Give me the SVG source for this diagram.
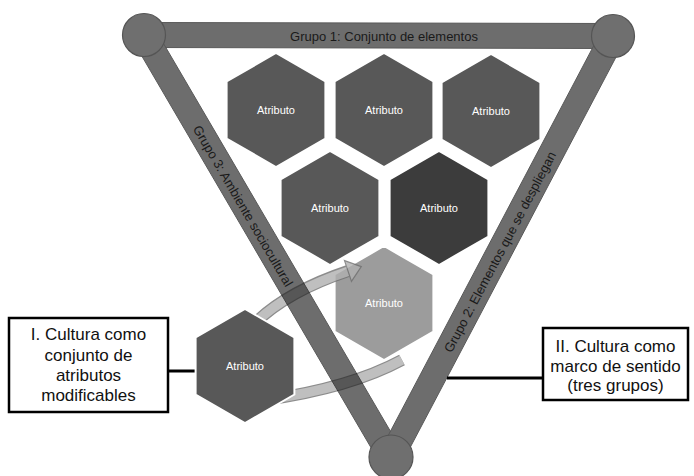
<svg xmlns="http://www.w3.org/2000/svg" width="694" height="476" viewBox="0 0 694 476">
<style>
.hex{stroke:#fff;stroke-width:2}
.h-mid{fill:#585858}
.h-dark{fill:#3c3c3c}
.h-light{fill:#9c9c9c}
.lbl{font-family:"Liberation Sans",Arial,sans-serif;font-size:11px;fill:#fff;text-anchor:middle}
.bartxt{font-family:"Liberation Sans",Arial,sans-serif;font-size:13px;fill:#1a1a1a;text-anchor:middle}
.boxtxt{font-family:"Liberation Sans",Arial,sans-serif;font-size:17px;fill:#111;text-anchor:middle}
.bar{fill:#202020;stroke:#000;stroke-width:1}
.circ{fill:#6f6f6f;stroke:#555;stroke-width:1.2}
.box{fill:#fff;stroke:#000;stroke-width:2.5}
.conn{stroke:#000;stroke-width:3;fill:none}
</style>
<defs>
<polygon id="hexshape" points="0,-57 49.4,-28.5 49.4,28.5 0,57 -49.4,28.5 -49.4,-28.5"/>
</defs>
<rect width="694" height="476" fill="#fff"/>

<g id="hex-1"><use href="#hexshape" class="hex h-mid" x="276" y="110"/><text class="lbl" x="276" y="114">Atributo</text></g>
<g id="hex-2"><use href="#hexshape" class="hex h-mid" x="384" y="110"/><text class="lbl" x="384" y="114">Atributo</text></g>
<g id="hex-3"><use href="#hexshape" class="hex h-mid" x="491" y="111"/><text class="lbl" x="491" y="115">Atributo</text></g>
<g id="hex-4"><use href="#hexshape" class="hex h-mid" x="330" y="208"/><text class="lbl" x="330" y="212">Atributo</text></g>
<g id="hex-5"><use href="#hexshape" class="hex h-dark" x="439" y="208"/><text class="lbl" x="439" y="212">Atributo</text></g>
<g id="hex-6"><use href="#hexshape" class="hex h-light" x="384" y="303"/><text class="lbl" x="384" y="307">Atributo</text></g>

<g id="connectors">
<g id="cycle-arrow" opacity="0.8">
<path d="M402,360 Q350,388 265,400" fill="none" stroke="#707070" stroke-width="12"/>
<path d="M402,360 Q350,388 265,400" fill="none" stroke="#b0b0b0" stroke-width="9.5"/>
<path d="M255,323 Q288,291 348,271" fill="none" stroke="#707070" stroke-width="12"/>
<path d="M255,323 Q288,291 349,271" fill="none" stroke="#b0b0b0" stroke-width="9.5"/>
<polygon points="344.5,260.6 361.3,266.6 351.5,281.4" fill="#b0b0b0" stroke="#707070" stroke-width="1.2"/>
</g>
<line class="conn" x1="168" y1="371" x2="197" y2="371"/>
<line class="conn" x1="447" y1="378" x2="543" y2="378" stroke-width="2.5"/>
</g>

<g id="hex-7"><use href="#hexshape" class="hex h-mid" x="245" y="366"/><text class="lbl" x="245" y="370">Atributo</text></g>

<g id="triangle">
<g opacity="0.65">
<polygon class="bar" points="144,22.5 613,23.5 613,48.5 144,47.5"/>
<polygon class="bar" points="154.8,28.7 401.8,450.7 380.2,463.3 133.2,41.3"/>
<polygon class="bar" points="624.05,41.83 402.05,462.83 379.95,451.17 601.95,30.17"/>
</g>
<circle class="circ" cx="144" cy="35" r="21.5"/>
<circle class="circ" cx="613" cy="36" r="21.5"/>
<circle class="circ" cx="391" cy="457" r="22"/>
<text class="bartxt" x="384" y="40.5">Grupo 1: Conjunto de elementos</text>
<text class="bartxt" transform="translate(243,206) rotate(59.66)" dy="4.5">Grupo 3: Ambiente sociocultural</text>
<text class="bartxt" transform="translate(500,252) rotate(-62.2)" dy="4.5">Grupo 2: Elementos que se despliegan</text>
</g>

<g id="box-1">
<rect class="box" x="9" y="318" width="159" height="94"/>
<text class="boxtxt" x="88.5" y="340">I. Cultura como</text>
<text class="boxtxt" x="88.5" y="361">conjunto de</text>
<text class="boxtxt" x="88.5" y="381">atributos</text>
<text class="boxtxt" x="88.5" y="401">modificables</text>
</g>

<g id="box-2">
<rect class="box" x="543" y="328" width="145" height="72"/>
<text class="boxtxt" x="615.5" y="352">II. Cultura como</text>
<text class="boxtxt" x="615.5" y="371.5">marco de sentido</text>
<text class="boxtxt" x="615.5" y="391">(tres grupos)</text>
</g>
</svg>
